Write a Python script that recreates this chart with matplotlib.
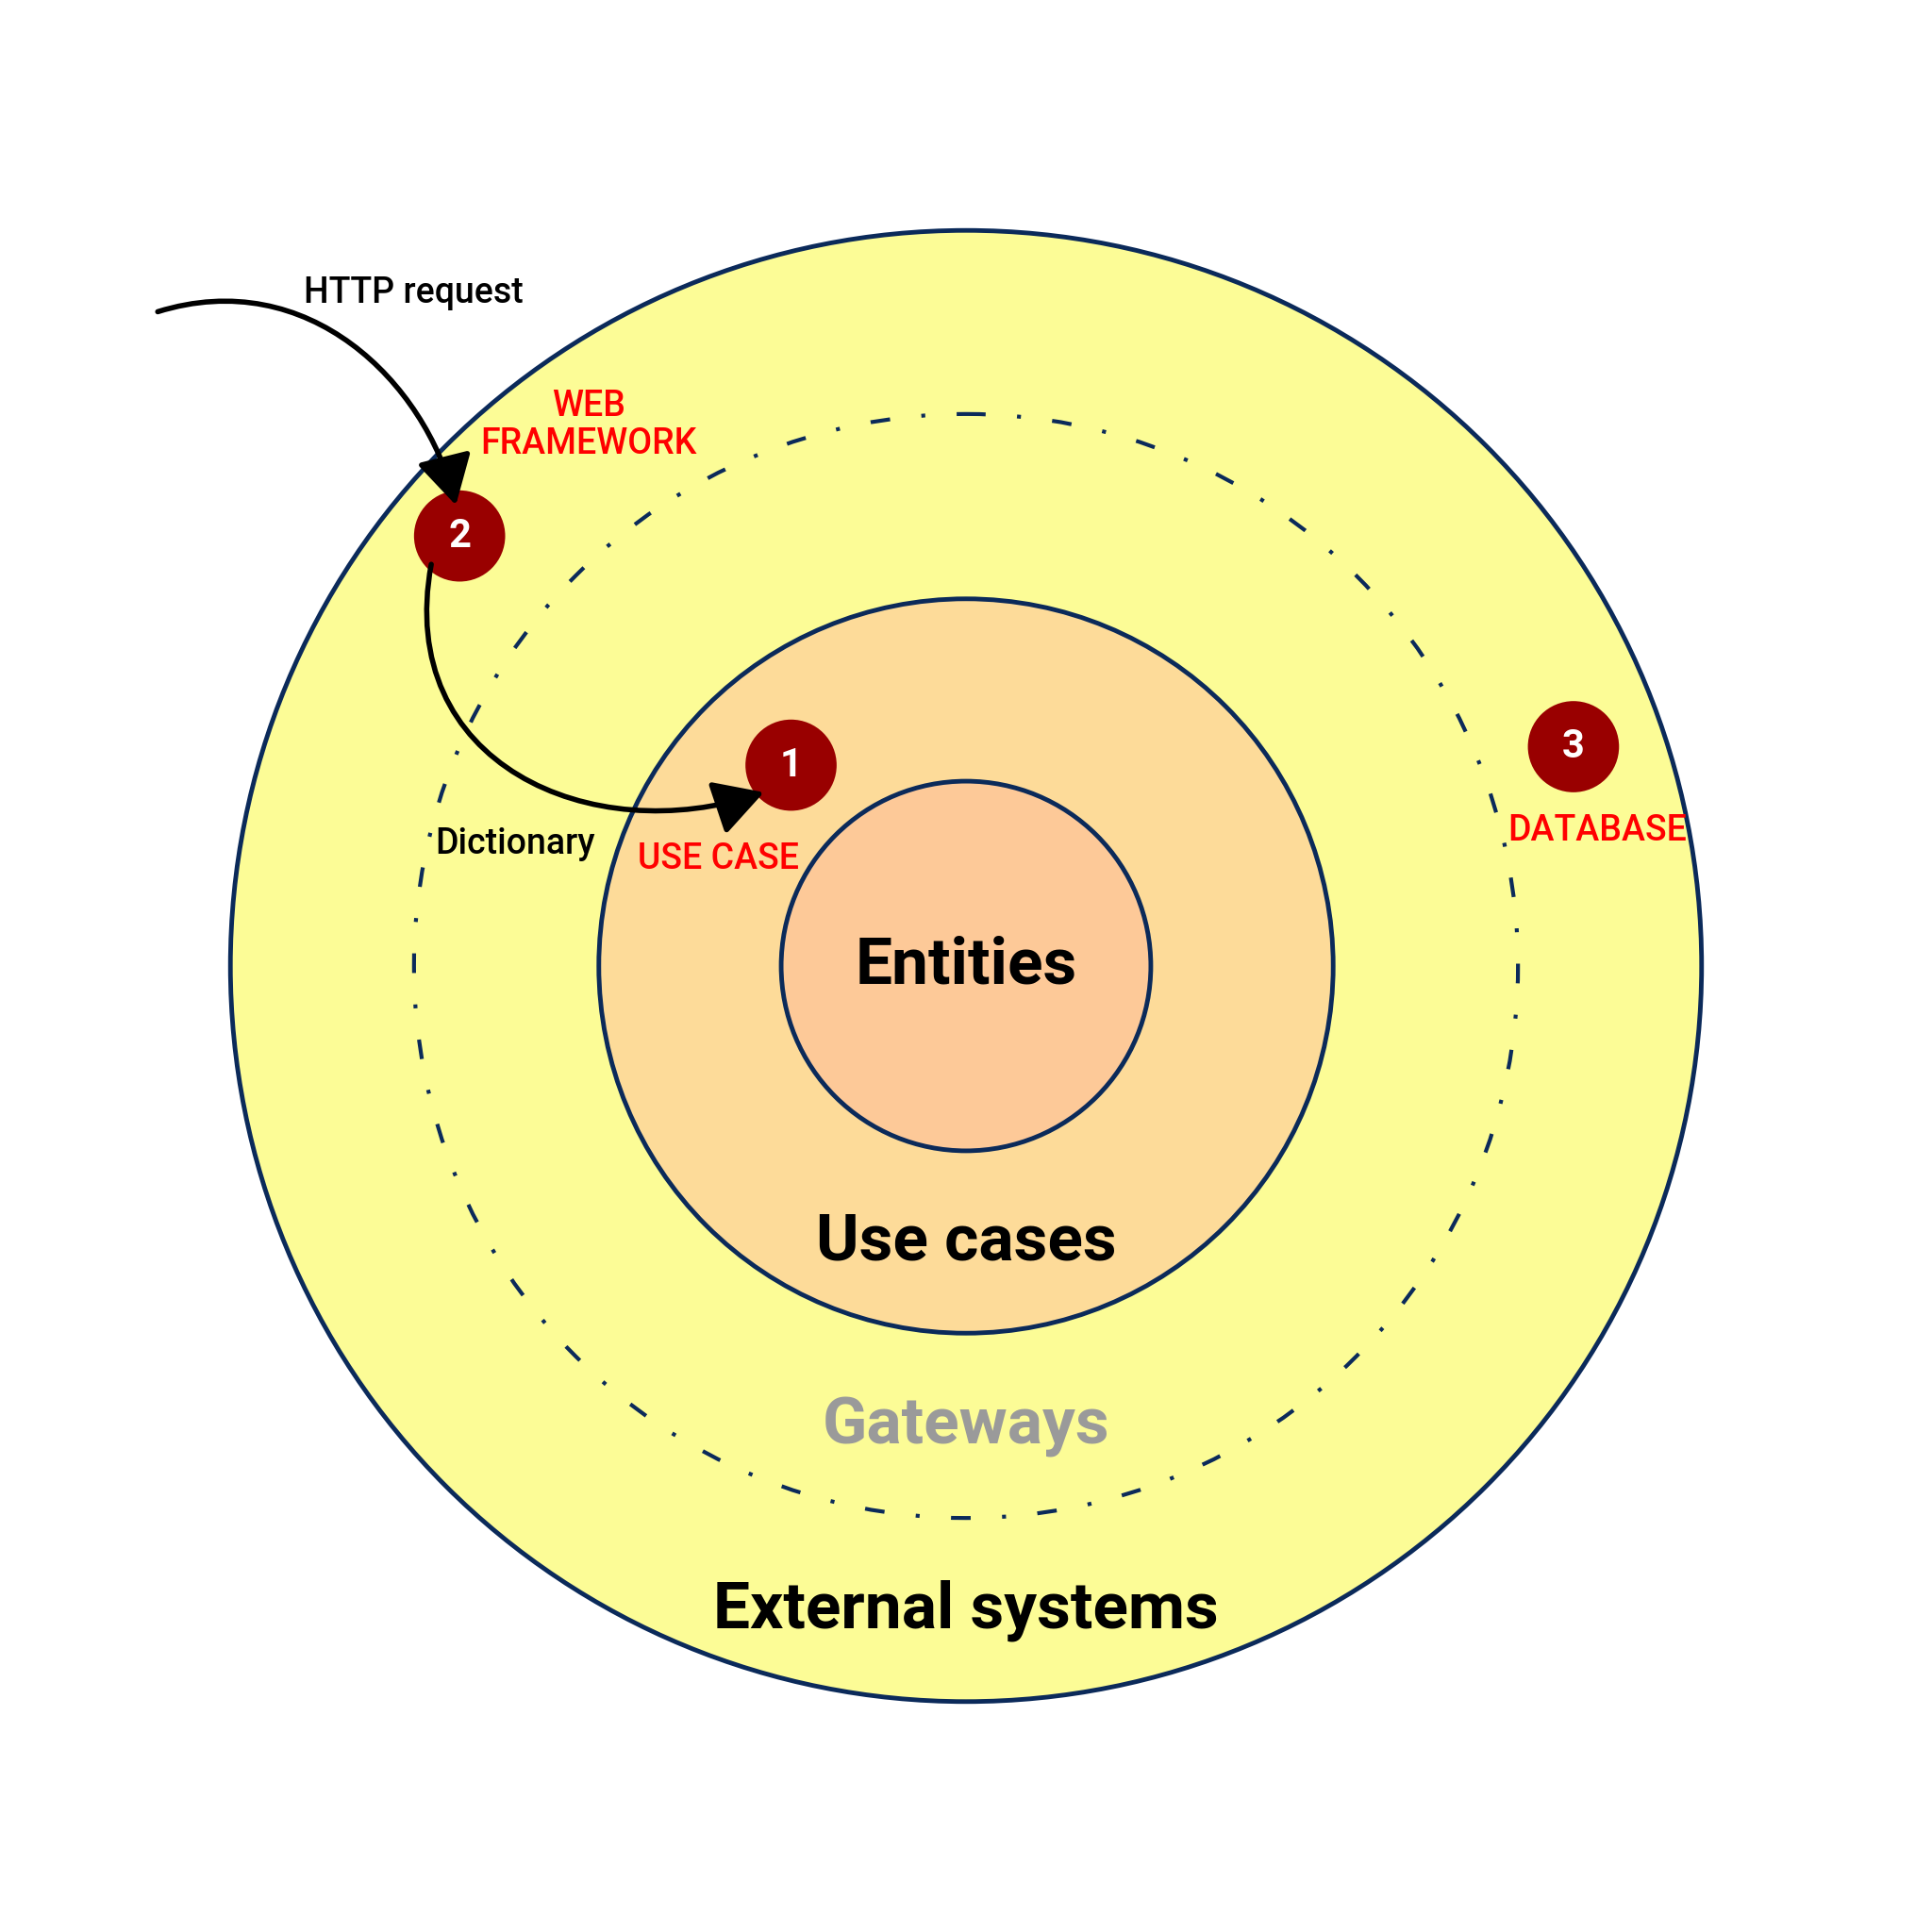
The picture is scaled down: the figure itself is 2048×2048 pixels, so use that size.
import matplotlib.pyplot as plt
from matplotlib.patches import Circle, FancyArrowPatch
from matplotlib.path import Path

plt.rcParams['font.family'] = ['Roboto', 'DejaVu Sans']

# layers: (radius, fill, label, label_y, label_color)
center = (784, 784)
radii = [597, 298, 150]
fills = ['#fcfc96', '#fddb99', '#fdc998']
ring_labels = ['External systems', 'Use cases', 'Entities']
ring_label_y = [1307, 1008, 784]
dotted_radius = 448
edge = '#0b2a5a'

markers = ['2', '1', '3']
marker_xy = [(373, 435), (642, 621), (1277, 606)]
red_labels = ['WEB\nFRAMEWORK', 'USE CASE', 'DATABASE']
red_xy = [(478, 345), (583, 697), (1296, 674)]

fig = plt.figure(figsize=(20.48, 20.48), dpi=100)
ax = fig.add_axes([0, 0, 1, 1])
ax.set_xlim(0, 1568)
ax.set_ylim(1568, 0)
ax.set_aspect('equal')
ax.axis('off')

for r, c in zip(radii, fills):
    ax.add_patch(Circle(center, r, facecolor=c, edgecolor=edge, lw=3.5, zorder=1))
ax.add_patch(Circle(center, dotted_radius, facecolor='none', edgecolor=edge, lw=3,
                    linestyle=(0, (5, 8, 1, 8)), zorder=2))

for lab, y in zip(ring_labels, ring_label_y):
    ax.text(784, y, lab, ha='center', va='center', fontsize=50, fontweight='bold', zorder=5)
ax.text(784, 1158, 'Gateways', ha='center', va='center', fontsize=50,
        fontweight='bold', color='#9a9a9a', zorder=5)

for m, (x, y) in zip(markers, marker_xy):
    ax.add_patch(Circle((x, y), 37, facecolor='#990000', edgecolor='none', zorder=6))
    ax.text(x, y, m, ha='center', va='center', fontsize=30, fontweight='bold',
            color='white', zorder=7)

for lab, (x, y) in zip(red_labels, red_xy):
    ax.text(x, y, lab, ha='center', va='center', fontsize=27, color='red',
            fontweight='medium', zorder=5, linespacing=1.1)

ax.text(336, 238, 'HTTP request', ha='center', va='center', fontsize=27,
        fontweight='medium', zorder=5)
ax.text(418, 685, 'Dictionary', ha='center', va='center', fontsize=27,
        fontweight='medium', zorder=5)

arrows = [
    [(128, 253), (250, 215), (345, 310), (370, 410)],
    [(350, 458), (320, 620), (480, 690), (620, 643)],
]
for pts in arrows:
    p = Path(pts, [Path.MOVETO, Path.CURVE4, Path.CURVE4, Path.CURVE4])
    ax.add_patch(FancyArrowPatch(path=p, arrowstyle='-|>,head_length=1.6,head_width=0.9',
                                 lw=4, color='black', zorder=8, mutation_scale=20))

fig.savefig('out.png', dpi=100)
